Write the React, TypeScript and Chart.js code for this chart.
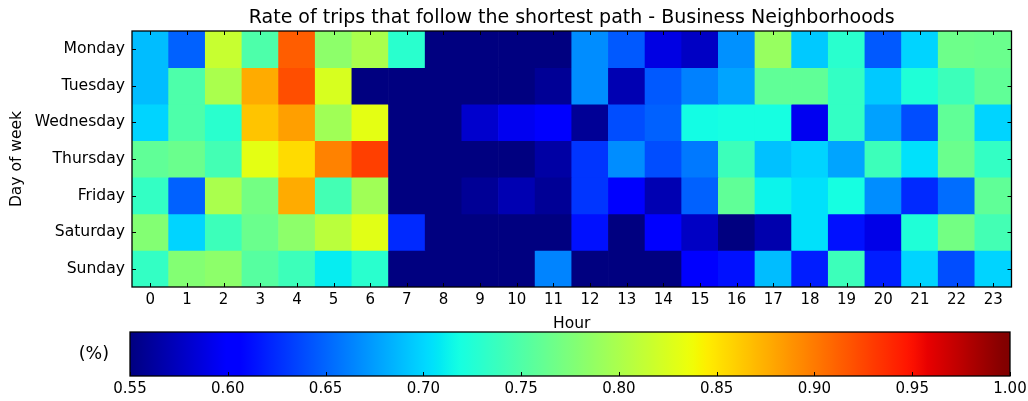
import React, { useEffect, useRef } from 'react';
import { Chart, registerables } from 'chart.js';

Chart.register(...registerables);

const title = 'Rate of trips that follow the shortest path - Business Neighborhoods';
const days = ['Monday', 'Tuesday', 'Wednesday', 'Thursday', 'Friday', 'Saturday', 'Sunday'];
const hours = ['0', '1', '2', '3', '4', '5', '6', '7', '8', '9', '10', '11', '12', '13', '14', '15', '16', '17', '18', '19', '20', '21', '22', '23'];

const monday = [0.69, 0.65, 0.816, 0.75, 0.914, 0.785, 0.80, 0.73, 0.55, 0.55, 0.55, 0.55, 0.668, 0.645, 0.59, 0.578, 0.67, 0.79, 0.695, 0.73, 0.645, 0.70, 0.767, 0.765];
const tuesday = [0.69, 0.75, 0.80, 0.878, 0.922, 0.825, 0.55, 0.55, 0.55, 0.55, 0.55, 0.56, 0.668, 0.57, 0.645, 0.663, 0.68, 0.76, 0.76, 0.735, 0.695, 0.725, 0.74, 0.76];
const wednesday = [0.70, 0.75, 0.73, 0.865, 0.883, 0.795, 0.833, 0.55, 0.55, 0.58, 0.595, 0.60, 0.56, 0.64, 0.65, 0.717, 0.72, 0.72, 0.595, 0.735, 0.677, 0.64, 0.76, 0.70];
const thursday = [0.76, 0.765, 0.745, 0.833, 0.855, 0.898, 0.928, 0.55, 0.55, 0.55, 0.55, 0.565, 0.63, 0.668, 0.64, 0.66, 0.74, 0.692, 0.70, 0.68, 0.74, 0.705, 0.765, 0.735];
const friday = [0.735, 0.65, 0.80, 0.77, 0.878, 0.745, 0.795, 0.55, 0.55, 0.56, 0.57, 0.56, 0.63, 0.60, 0.57, 0.65, 0.76, 0.715, 0.705, 0.72, 0.668, 0.625, 0.655, 0.76];
const saturday = [0.78, 0.70, 0.74, 0.765, 0.785, 0.81, 0.83, 0.625, 0.55, 0.55, 0.55, 0.55, 0.615, 0.55, 0.60, 0.578, 0.55, 0.568, 0.705, 0.615, 0.592, 0.725, 0.77, 0.745];
const sunday = [0.735, 0.78, 0.785, 0.755, 0.74, 0.71, 0.73, 0.55, 0.55, 0.55, 0.55, 0.665, 0.55, 0.55, 0.55, 0.60, 0.615, 0.69, 0.62, 0.74, 0.62, 0.70, 0.64, 0.70];

const rows = [monday, tuesday, wednesday, thursday, friday, saturday, sunday];

const colorbarTicks = [0.55, 0.60, 0.65, 0.70, 0.75, 0.80, 0.85, 0.90, 0.95, 1.00];
const vmin = 0.55;
const vmax = 1.0;

const FONT = '"DejaVu Sans", sans-serif';

const jetR: number[][] = [[0, 0], [0.35, 0], [0.66, 1], [0.89, 1], [1, 0.5]];
const jetG: number[][] = [[0, 0], [0.125, 0], [0.375, 1], [0.64, 1], [0.91, 0], [1, 0]];
const jetB: number[][] = [[0, 0.5], [0.11, 1], [0.34, 1], [0.65, 0], [1, 0]];

function interp(pts: number[][], t: number): number {
  for (let i = 1; i < pts.length; i++) {
    if (t <= pts[i][0]) {
      const [x0, y0] = pts[i - 1];
      const [x1, y1] = pts[i];
      return y0 + ((t - x0) / (x1 - x0)) * (y1 - y0);
    }
  }
  return pts[pts.length - 1][1];
}

function jet(t: number): string {
  let c = Math.max(0, Math.min(1, t));
  c = Math.min(255, Math.floor(c * 256)) / 255;
  const r = Math.round(interp(jetR, c) * 255);
  const g = Math.round(interp(jetG, c) * 255);
  const b = Math.round(interp(jetB, c) * 255);
  return `rgb(${r},${g},${b})`;
}

function colorFor(v: number): string {
  return jet((v - vmin) / (vmax - vmin));
}

function noPad(s: any) {
  s.paddingTop = 0;
  s.paddingBottom = 0;
  s.paddingLeft = 0;
  s.paddingRight = 0;
}

const framePlugin = {
  id: 'frame',
  afterDraw(chart: any, _args: any, opts: any) {
    const { ctx, chartArea } = chart;
    const { left, right, top, bottom } = chartArea;
    const len = 4;
    ctx.save();
    ctx.strokeStyle = '#000';
    ctx.lineWidth = 1;
    ctx.beginPath();
    const xs = chart.scales.x;
    if (opts.xTop || opts.xBottom) {
      xs.ticks.forEach((_t: any, i: number) => {
        const px = Math.round(xs.getPixelForTick(i)) + 0.5;
        if (opts.xTop) {
          ctx.moveTo(px, top);
          ctx.lineTo(px, top + len);
        }
        if (opts.xBottom) {
          ctx.moveTo(px, bottom);
          ctx.lineTo(px, bottom - len);
        }
      });
    }
    const ys = chart.scales.y;
    if (opts.yLeft || opts.yRight) {
      ys.ticks.forEach((_t: any, i: number) => {
        const py = Math.round(ys.getPixelForTick(i)) + 0.5;
        if (opts.yLeft) {
          ctx.moveTo(left, py);
          ctx.lineTo(left + len, py);
        }
        if (opts.yRight) {
          ctx.moveTo(right, py);
          ctx.lineTo(right - len, py);
        }
      });
    }
    ctx.stroke();
    ctx.lineWidth = 1.3;
    ctx.strokeRect(left, top, right - left, bottom - top);
    ctx.restore();
  },
};

function Heatmap() {
  const ref = useRef<HTMLCanvasElement>(null);
  useEffect(() => {
    if (!ref.current) return;
    const chart = new Chart(ref.current, {
      type: 'bar',
      data: {
        labels: hours,
        datasets: rows.map((vals, d) => ({
          label: days[d],
          data: vals.map(() => [d - 0.5, d + 0.5]),
          backgroundColor: vals.map((v) => colorFor(v)),
          borderWidth: 0,
          barPercentage: 1,
          categoryPercentage: 1,
          grouped: false,
        })) as any,
      },
      plugins: [framePlugin],
      options: {
        responsive: false,
        animation: false,
        devicePixelRatio: 1,
        layout: { padding: { left: 0, right: 16.5, top: 0, bottom: 0 } },
        plugins: {
          legend: { display: false },
          tooltip: { enabled: false },
          title: { display: false },
          frame: { xTop: true, xBottom: true, yLeft: true, yRight: true },
        } as any,
        scales: {
          x: {
            type: 'category',
            offset: true,
            grid: { display: false, drawTicks: false },
            border: { display: false },
            ticks: { color: '#000', font: { family: FONT, size: 15 }, padding: 4, maxRotation: 0, autoSkip: false },
            title: {
              display: true,
              text: 'Hour',
              color: '#000',
              font: { family: FONT, size: 15.5 },
              padding: { top: 0, bottom: 2 },
            },
            afterFit: (s: any) => {
              s.height = 48;
              noPad(s);
            },
          },
          xTitle: {
            type: 'category',
            position: 'top',
            offset: true,
            grid: { display: false, drawTicks: false },
            border: { display: false },
            ticks: { display: false },
            title: {
              display: true,
              text: title,
              color: '#000',
              font: { family: FONT, size: 19 },
              padding: { top: 6.3, bottom: 0 },
            },
            afterFit: (s: any) => {
              s.height = 31;
              noPad(s);
            },
          },
          y: {
            type: 'linear',
            min: -0.5,
            max: 6.5,
            reverse: true,
            grid: { display: false, drawTicks: false },
            border: { display: false },
            afterBuildTicks: (s: any) => {
              s.ticks = days.map((_d, i) => ({ value: i }));
            },
            ticks: {
              color: '#000',
              font: { family: FONT, size: 15.6 },
              padding: 7,
              callback: (v: any) => days[Math.round(Number(v))] ?? '',
            },
            title: {
              display: true,
              text: 'Day of week',
              color: '#000',
              font: { family: FONT, size: 15.5 },
              padding: { top: 7.7, bottom: 0 },
            },
            afterFit: (s: any) => {
              s.width = 132;
              noPad(s);
            },
          },
        } as any,
      },
    });
    return () => chart.destroy();
  }, []);
  return (
    <canvas
      ref={ref}
      width={1028}
      height={335}
      style={{ position: 'absolute', left: 0, top: 0, width: 1028, height: 335 }}
    />
  );
}

function Colorbar() {
  const ref = useRef<HTMLCanvasElement>(null);
  useEffect(() => {
    if (!ref.current) return;
    const chart = new Chart(ref.current, {
      type: 'bar',
      data: {
        labels: ['(%)'],
        datasets: [
          {
            label: 'scale',
            data: [[vmin, vmax]] as any,
            backgroundColor: (c: any) => {
              const ch = c.chart;
              const area = ch.chartArea;
              if (!area) return '#000';
              const g = ch.ctx.createLinearGradient(area.left, 0, area.right, 0);
              for (let i = 0; i <= 128; i++) {
                g.addColorStop(i / 128, jet(i / 128));
              }
              return g;
            },
            borderWidth: 0,
            barPercentage: 1,
            categoryPercentage: 1,
          },
        ],
      },
      plugins: [framePlugin],
      options: {
        indexAxis: 'y',
        responsive: false,
        animation: false,
        devicePixelRatio: 1,
        layout: { padding: { left: 0, right: 18, top: 12, bottom: 0 } },
        plugins: {
          legend: { display: false },
          tooltip: { enabled: false },
          frame: { xTop: false, xBottom: true, yLeft: false, yRight: false },
        } as any,
        scales: {
          x: {
            type: 'linear',
            min: vmin,
            max: vmax,
            grid: { display: false, drawTicks: false },
            border: { display: false },
            afterBuildTicks: (s: any) => {
              s.ticks = colorbarTicks.map((v) => ({ value: v }));
            },
            ticks: {
              color: '#000',
              font: { family: FONT, size: 15 },
              padding: 4,
              maxRotation: 0,
              autoSkip: false,
              callback: (v: any) => Number(v).toFixed(2),
            },
            afterFit: (s: any) => {
              s.height = 25;
              noPad(s);
            },
          },
          y: {
            type: 'category',
            offset: true,
            grid: { display: false, drawTicks: false },
            border: { display: false },
            ticks: { color: '#000', font: { family: FONT, size: 17.5 }, padding: 21 },
            afterFit: (s: any) => {
              s.width = 130;
              noPad(s);
            },
          },
        },
      },
    });
    return () => chart.destroy();
  }, []);
  return (
    <canvas
      ref={ref}
      width={1028}
      height={81}
      style={{ position: 'absolute', left: 0, top: 320, width: 1028, height: 81 }}
    />
  );
}

export default function App() {
  return (
    <div style={{ position: 'fixed', left: 0, top: 0, width: 1028, height: 401, background: '#fff' }}>
      <Heatmap />
      <Colorbar />
    </div>
  );
}
